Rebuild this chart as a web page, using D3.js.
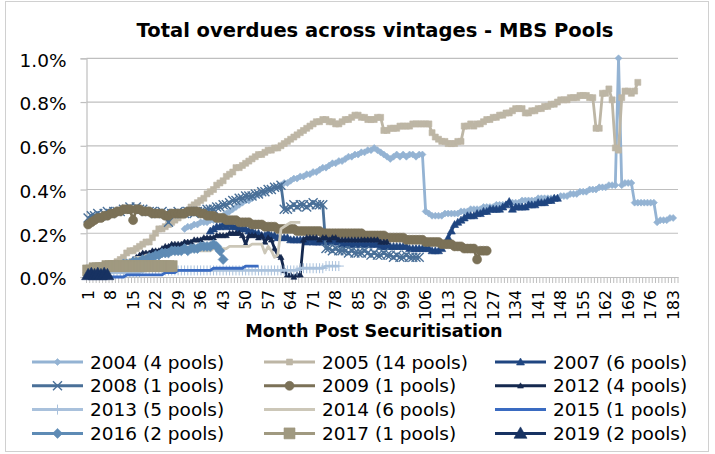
<!DOCTYPE html>
<html>
<head>
<meta charset="utf-8">
<script src="https://cdn.jsdelivr.net/npm/d3@7"></script>
<style>
  body { margin: 0; background: #fff; }
  svg { display: block; }
  text { font-family: "DejaVu Sans", sans-serif; fill: #000; }
</style>
</head>
<body>
<svg id="chart" width="715" height="454"></svg>
<script>
// months on the category axis, labels every 7th month
const months = d3.range(1, 185);
const tickLabels = d3.range(1, 184, 7);
const yTicks = [0, 0.2, 0.4, 0.6, 0.8, 1.0];

const vintages = ['2004 (4 pools)', '2005 (14 pools)', '2007 (6 pools)', '2008 (1 pools)',
  '2009 (1 pools)', '2012 (4 pools)', '2013 (5 pools)', '2014 (6 pools)',
  '2015 (1 pools)', '2016 (2 pools)', '2017 (1 pools)', '2019 (2 pools)'];
const firstMonth = [31, 1, 39, 1, 1, 1, 1, 1, 1, 1, 1, 1];

// total overdues, % of pool balance
const v2004 = [
  0.22,0.23,0.23,0.24,0.24,0.25,0.25,0.25,0.26,0.26,
  0.26,0.27,0.28,0.29,0.30,0.31,0.32,0.33,0.34,0.35,
  0.35,0.36,0.37,0.38,0.38,0.39,0.40,0.40,0.41,0.41,
  0.42,0.43,0.43,0.44,0.45,0.45,0.46,0.46,0.47,0.47,
  0.48,0.48,0.49,0.50,0.50,0.51,0.52,0.52,0.53,0.53,
  0.54,0.55,0.55,0.56,0.56,0.57,0.57,0.58,0.58,0.59,
  0.58,0.57,0.56,0.55,0.54,0.55,0.56,0.55,0.56,0.55,
  0.56,0.56,0.55,0.56,0.56,0.30,0.29,0.28,0.28,0.28,
  0.28,0.29,0.29,0.29,0.29,0.29,0.30,0.30,0.30,0.31,
  0.31,0.31,0.31,0.32,0.32,0.32,0.32,0.33,0.33,0.33,
  0.33,0.34,0.34,0.34,0.34,0.35,0.35,0.35,0.35,0.35,
  0.36,0.36,0.36,0.36,0.36,0.36,0.36,0.37,0.37,0.37,
  0.38,0.38,0.38,0.39,0.39,0.39,0.40,0.40,0.40,0.41,
  0.41,0.41,0.42,0.42,0.42,1.00,0.42,0.43,0.43,0.43,
  0.34,0.34,0.34,0.34,0.34,0.34,0.34,0.25,0.26,0.26,
  0.26,0.27,0.27];
const v2005 = [
  0.02,0.02,0.03,0.03,0.04,0.04,0.05,0.06,0.06,0.07,
  0.08,0.09,0.11,0.12,0.12,0.13,0.14,0.15,0.16,0.16,
  0.18,0.20,0.22,0.22,0.23,0.24,0.25,0.26,0.27,0.28,
  0.29,0.30,0.32,0.33,0.34,0.35,0.36,0.38,0.39,0.40,
  0.42,0.43,0.44,0.46,0.47,0.48,0.50,0.50,0.51,0.52,
  0.53,0.54,0.55,0.56,0.56,0.57,0.58,0.58,0.59,0.59,
  0.60,0.61,0.62,0.63,0.64,0.65,0.66,0.67,0.68,0.69,
  0.70,0.71,0.71,0.72,0.72,0.71,0.71,0.70,0.70,0.71,
  0.72,0.72,0.73,0.74,0.74,0.73,0.73,0.72,0.72,0.72,
  0.73,0.73,0.67,0.67,0.68,0.68,0.68,0.69,0.69,0.69,
  0.69,0.70,0.70,0.70,0.70,0.70,0.70,0.66,0.64,0.63,
  0.62,0.62,0.61,0.61,0.61,0.62,0.62,0.69,0.69,0.70,
  0.69,0.70,0.70,0.71,0.72,0.72,0.73,0.73,0.74,0.74,
  0.75,0.75,0.76,0.77,0.77,0.77,0.75,0.75,0.76,0.76,
  0.77,0.77,0.78,0.78,0.79,0.79,0.80,0.81,0.81,0.81,
  0.82,0.82,0.82,0.83,0.83,0.83,0.82,0.82,0.68,0.68,
  0.84,0.84,0.86,0.81,0.59,0.58,0.82,0.85,0.85,0.84,
  0.85,0.89];
const v2007 = [
  0.21,0.22,0.23,0.23,0.24,0.23,0.24,0.23,0.23,0.22,
  0.22,0.22,0.21,0.21,0.20,0.20,0.19,0.19,0.20,0.19,
  0.19,0.18,0.18,0.18,0.18,0.17,0.17,0.17,0.17,0.17,
  0.16,0.17,0.16,0.16,0.16,0.16,0.16,0.16,0.16,0.16,
  0.16,0.15,0.15,0.15,0.15,0.15,0.15,0.15,0.15,0.15,
  0.15,0.15,0.15,0.14,0.14,0.14,0.14,0.14,0.14,0.14,
  0.14,0.14,0.13,0.13,0.13,0.13,0.13,0.13,0.13,0.12,
  0.12,0.12,0.13,0.15,0.18,0.21,0.24,0.25,0.26,0.27,
  0.28,0.28,0.28,0.29,0.29,0.30,0.30,0.31,0.31,0.31,
  0.31,0.32,0.33,0.345,0.31,0.32,0.32,0.32,0.32,0.33,
  0.33,0.33,0.34,0.34,0.34,0.35,0.35,0.36,0.36];
const v2008 = [
  0.27,0.28,0.28,0.29,0.28,0.29,0.30,0.29,0.30,0.30,
  0.30,0.31,0.31,0.32,0.31,0.32,0.31,0.31,0.30,0.30,
  0.30,0.29,0.29,0.30,0.29,0.25,0.29,0.29,0.30,0.29,
  0.29,0.30,0.30,0.29,0.30,0.30,0.30,0.31,0.31,0.31,
  0.32,0.32,0.33,0.33,0.34,0.35,0.35,0.36,0.36,0.37,
  0.37,0.37,0.38,0.38,0.39,0.39,0.40,0.40,0.41,0.41,
  0.42,0.31,0.31,0.32,0.33,0.32,0.33,0.33,0.32,0.33,
  0.34,0.33,0.33,0.33,0.13,0.13,0.12,0.13,0.12,0.12,
  0.12,0.11,0.12,0.11,0.11,0.11,0.12,0.11,0.10,0.11,
  0.10,0.10,0.11,0.10,0.10,0.09,0.10,0.09,0.09,0.10,
  0.09,0.09,0.09,0.09];
const v2009 = [
  0.24,0.25,0.26,0.27,0.27,0.28,0.28,0.29,0.29,0.30,
  0.30,0.31,0.31,0.31,0.26,0.31,0.31,0.30,0.30,0.30,
  0.29,0.29,0.29,0.29,0.28,0.28,0.29,0.29,0.29,0.29,
  0.29,0.30,0.30,0.30,0.30,0.29,0.29,0.28,0.28,0.28,
  0.27,0.27,0.27,0.26,0.26,0.26,0.26,0.25,0.25,0.25,
  0.25,0.24,0.24,0.24,0.24,0.23,0.23,0.23,0.23,0.22,
  0.22,0.22,0.22,0.22,0.22,0.21,0.21,0.21,0.21,0.21,
  0.21,0.21,0.21,0.20,0.20,0.20,0.20,0.20,0.20,0.20,
  0.20,0.20,0.20,0.20,0.20,0.20,0.19,0.19,0.19,0.19,
  0.19,0.19,0.19,0.18,0.18,0.18,0.18,0.18,0.18,0.17,
  0.17,0.17,0.17,0.17,0.17,0.16,0.16,0.16,0.16,0.16,
  0.15,0.15,0.15,0.15,0.14,0.14,0.14,0.13,0.13,0.13,
  0.13,0.08,0.12,0.12,0.12];
const v2012 = [
  0.02,0.02,0.03,0.03,0.03,0.04,0.04,0.04,0.05,0.05,
  0.05,0.06,0.06,0.07,0.08,0.09,0.10,0.11,0.11,0.11,
  0.12,0.12,0.12,0.13,0.14,0.14,0.15,0.15,0.15,0.15,
  0.16,0.16,0.16,0.17,0.17,0.17,0.18,0.18,0.18,0.18,
  0.19,0.19,0.19,0.19,0.20,0.20,0.20,0.20,0.19,0.15,
  0.19,0.19,0.19,0.18,0.19,0.16,0.18,0.17,0.13,0.10,
  0.09,0.03,0.01,0.01,0.00,0.01,0.01,0.17,0.18,0.18,
  0.18,0.18,0.17,0.18,0.18,0.17,0.18,0.18,0.17,0.17,
  0.17,0.17,0.17,0.17,0.17,0.17,0.17,0.17,0.17,0.17,
  0.17,0.16,0.16,0.16];
const v2013 = [
  0.01,0.01,0.01,0.02,0.02,0.02,0.02,0.02,0.02,0.02,
  0.02,0.02,0.02,0.02,0.02,0.02,0.02,0.03,0.03,0.03,
  0.03,0.03,0.03,0.03,0.03,0.03,0.03,0.03,0.03,0.03,
  0.03,0.03,0.03,0.03,0.03,0.03,0.03,0.03,0.03,0.03,
  0.03,0.03,0.03,0.03,0.03,0.03,0.03,0.03,0.03,0.03,
  0.03,0.03,0.03,0.03,0.03,0.03,0.03,0.03,0.03,0.03,
  0.03,0.03,0.03,0.03,0.03,0.03,0.04,0.04,0.04,0.04,
  0.04,0.04,0.04,0.04,0.05,0.05,0.05,0.05,0.05];
const v2014 = [
  0.01,0.02,0.02,0.03,0.03,0.04,0.04,0.05,0.05,0.06,
  0.06,0.07,0.07,0.08,0.08,0.09,0.09,0.09,0.10,0.10,
  0.10,0.10,0.11,0.11,0.11,0.11,0.11,0.11,0.11,0.12,
  0.12,0.12,0.12,0.12,0.12,0.12,0.12,0.12,0.12,0.13,
  0.13,0.13,0.13,0.13,0.14,0.14,0.14,0.14,0.14,0.14,
  0.14,0.15,0.15,0.15,0.15,0.11,0.14,0.12,0.09,0.10,
  0.22,0.23,0.24,0.25,0.25,0.25,0.25];
const v2015 = [
  0.00,0.00,0.00,0.00,0.00,0.00,0.00,0.00,0.00,0.00,
  0.00,0.00,0.01,0.01,0.01,0.01,0.01,0.01,0.01,0.01,
  0.01,0.01,0.01,0.01,0.02,0.02,0.02,0.02,0.03,0.03,
  0.03,0.03,0.03,0.03,0.03,0.03,0.03,0.03,0.03,0.04,
  0.04,0.04,0.04,0.04,0.04,0.04,0.04,0.04,0.04,0.05,
  0.05,0.05,0.05,0.05];
const v2016 = [
  0.02,0.03,0.03,0.03,0.04,0.04,0.04,0.05,0.05,0.05,
  0.05,0.06,0.06,0.06,0.07,0.07,0.07,0.08,0.08,0.09,
  0.09,0.10,0.10,0.11,0.11,0.11,0.12,0.12,0.12,0.12,
  0.13,0.12,0.13,0.13,0.13,0.14,0.14,0.14,0.14,0.15,
  0.14,0.12,0.08];
const v2017 = [
  0.03,0.03,0.04,0.04,0.04,0.04,0.05,0.05,0.05,0.05,
  0.05,0.05,0.05,0.05,0.05,0.05,0.05,0.05,0.05,0.05,
  0.05,0.05,0.05,0.05,0.05,0.05,0.05];
const v2019 = [0.01,0.015,0.01,0.015,0.01,0.015,0.01];

const seriesValues = [v2004, v2005, v2007, v2008, v2009, v2012, v2013, v2014, v2015, v2016, v2017, v2019];

// look of each vintage (Excel-style markers)
const styles = [
  {color: '#94B3D3', marker: 'diamond', r: 3.5},
  {color: '#BDB6A5', marker: 'square', r: 3},
  {color: '#1F4580', marker: 'triangle', r: 4},
  {color: '#4A7098', marker: 'x', r: 4.5},
  {color: '#7B7157', marker: 'circle', r: 4.5},
  {color: '#15294F', marker: 'triangle', r: 3},
  {color: '#A9C1DC', marker: 'plus', r: 5},
  {color: '#CCC7B8', marker: null, r: 0},
  {color: '#3A6BC1', marker: null, r: 0},
  {color: '#5E8BB5', marker: 'diamond', r: 5},
  {color: '#A09980', marker: 'square', r: 5.5},
  {color: '#173262', marker: 'triangle', r: 6.5}
];

const series = vintages.map((name, i) => ({
  name,
  style: styles[i],
  points: seriesValues[i].map((v, j) => ({m: firstMonth[i] + j, v}))
}));

const svg = d3.select('#chart');
const plot = {left: 86.5, right: 678, top: 58.3, bottom: 277};

const x = d3.scaleBand().domain(months).range([plot.left, plot.right]).padding(0);
const y = d3.scaleLinear().domain([0, 1]).range([plot.bottom, plot.top]);
const cx = m => x(m) + x.bandwidth() / 2;

// outer frame
svg.append('rect')
  .attr('x', 5.5).attr('y', 1.5).attr('width', 703).attr('height', 450)
  .attr('fill', '#fff').attr('stroke', '#D0D0D0').attr('stroke-width', 1);

svg.append('text')
  .attr('x', 375).attr('y', 37)
  .attr('text-anchor', 'middle')
  .style('font-size', '19.5px').style('font-weight', 'bold')
  .text('Total overdues across vintages - MBS Pools');

// gridlines
svg.append('g').selectAll('line')
  .data(yTicks.slice(1))
  .join('line')
  .attr('x1', plot.left).attr('x2', plot.right)
  .attr('y1', d => y(d)).attr('y2', d => y(d))
  .attr('stroke', '#BFBFBF').attr('stroke-width', 1.2);

// y axis
const yAxis = svg.append('g')
  .attr('transform', `translate(${plot.left},0)`)
  .call(d3.axisLeft(y).tickValues(yTicks).tickFormat(d => d.toFixed(1) + '%').tickSize(6).tickPadding(14));
yAxis.select('.domain').attr('stroke', '#BFBFBF').attr('stroke-width', 1.2);
yAxis.selectAll('.tick line').attr('stroke', '#BFBFBF').attr('stroke-width', 1.2);
yAxis.selectAll('.tick text')
  .attr('dy', '0.42em')
  .style('font-size', '18.5px').style('font-family', '"DejaVu Sans", sans-serif').attr('fill', '#000');

// x axis: tick marks at every month boundary, labels every 7th month
svg.append('g').selectAll('line')
  .data(months.concat([months.length + 1]))
  .join('line')
  .attr('x1', d => d <= months.length ? x(d) : plot.right)
  .attr('x2', d => d <= months.length ? x(d) : plot.right)
  .attr('y1', plot.bottom).attr('y2', plot.bottom + 6)
  .attr('stroke', '#ADADAD').attr('stroke-width', 0.8);

const xAxis = svg.append('g')
  .attr('transform', `translate(0,${plot.bottom})`)
  .call(d3.axisBottom(x).tickValues(tickLabels).tickSize(0));
xAxis.select('.domain').attr('stroke', '#BFBFBF').attr('stroke-width', 1.2);
xAxis.selectAll('.tick text')
  .attr('transform', 'rotate(-90)')
  .attr('x', -13).attr('y', 0).attr('dy', '0.36em')
  .style('text-anchor', 'end')
  .style('font-size', '15.7px').style('font-family', '"DejaVu Sans", sans-serif').attr('fill', '#000');

svg.append('text')
  .attr('x', 374).attr('y', 337)
  .attr('text-anchor', 'middle')
  .style('font-size', '17.6px').style('font-weight', 'bold')
  .text('Month Post Securitisation');

function markerPath(type, r) {
  switch (type) {
    case 'diamond': return `M0,${-r}L${r},0L0,${r}L${-r},0Z`;
    case 'square': return `M${-r},${-r}H${r}V${r}H${-r}Z`;
    case 'triangle': return `M0,${-r}L${r},${r * 0.75}L${-r},${r * 0.75}Z`;
    case 'x': return `M${-r},${-r}L${r},${r}M${-r},${r}L${r},${-r}`;
    case 'plus': return `M0,${-r}V${r}M${-r},0H${r}`;
    case 'circle': return d3.symbol(d3.symbolCircle, Math.PI * r * r)();
  }
  return null;
}
const strokeOnly = t => t === 'x' || t === 'plus';

function drawMarkers(g, pts, st) {
  if (!st.marker) return;
  const p = markerPath(st.marker, st.r);
  g.selectAll('path.mk')
    .data(pts)
    .join('path')
    .attr('class', 'mk')
    .attr('d', p)
    .attr('transform', d => `translate(${d.px},${d.py})`)
    .attr('fill', strokeOnly(st.marker) ? 'none' : st.color)
    .attr('stroke', st.color)
    .attr('stroke-width', st.marker === 'plus' ? 1 : (st.marker === 'x' ? 1.4 : 0.6));
}

const line = d3.line().x(d => cx(d.m)).y(d => y(d.v));

const lines = svg.append('g');
series.forEach(s => {
  const g = lines.append('g');
  g.append('path')
    .attr('d', line(s.points))
    .attr('fill', 'none')
    .attr('stroke', s.style.color)
    .attr('stroke-width', 2.8)
    .attr('stroke-linejoin', 'round');
  drawMarkers(g, s.points.map(d => ({px: cx(d.m), py: y(d.v)})), s.style);
});

// legend, 3 columns
const legCols = [32, 264, 495];
const legend = svg.append('g');
series.forEach((s, i) => {
  const lx = legCols[i % 3];
  const ly = 362 + Math.floor(i / 3) * 23.8;
  const g = legend.append('g');
  g.append('line')
    .attr('x1', lx).attr('x2', lx + 51).attr('y1', ly).attr('y2', ly)
    .attr('stroke', s.style.color).attr('stroke-width', 3);
  drawMarkers(g, [{px: lx + 25.5, py: ly}], s.style);
  g.append('text')
    .attr('x', lx + 58).attr('y', ly).attr('dy', '0.36em')
    .style('font-size', '18.5px')
    .text(s.name);
});
</script>
</body>
</html>
